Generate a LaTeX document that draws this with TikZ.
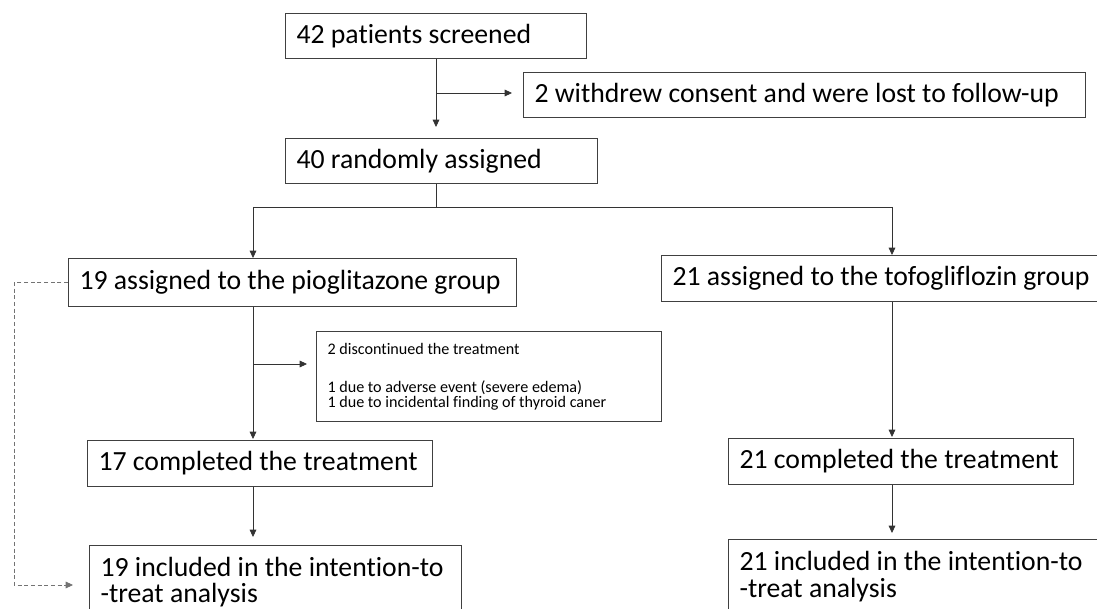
\documentclass[tikz,border=0pt]{standalone}
\usepackage{fontspec}
\setmainfont{Carlito}[Ligatures=NoCommon]
\usepackage{tikz}
\usetikzlibrary{positioning,arrows.meta,calc}

\begin{document}
\begin{tikzpicture}[x=0.75pt, y=-0.75pt,
  fbox/.style={draw=black!75, line width=0.8pt, anchor=north west, inner xsep=8.25pt, inner ysep=0pt,
               align=flush left, font=\fontsize{20.8}{19.8}\selectfont},
  small/.style={fbox, font=\fontsize{12.1}{11.25}\selectfont},
  arr/.style={-{Triangle[length=5.5pt,width=5pt]}, black!80, line width=0.6pt},
  link/.style={black!80, line width=0.6pt},
  dlink/.style={arr, black!55, dash pattern=on 3pt off 2pt}]
\useasboundingbox (0,0) rectangle (1097,609);
% boxes
\node[fbox, text width=209.25pt, minimum height=33.75pt] (screen) at (285,13) {42 patients screened};
\node[fbox, text width=405pt, minimum height=33.75pt] (withdrew) at (523,72) {2 withdrew consent and were lost to follow-up};
\node[fbox, text width=217.5pt, minimum height=33.75pt] (rand) at (285,138) {40 randomly assigned};
\node[fbox, text width=319.5pt, minimum height=36pt] (pio) at (68,258) {19 assigned to the pioglitazone group};
\node[fbox, text width=340pt, minimum height=34.5pt] (tofo) at (661,255) {21 assigned to the tofogliflozin group};
\node[small, text width=242.25pt, minimum height=67.5pt] (disc) at (316,331)
  {2 discontinued the treatment\\[17pt] 1 due to adverse event (severe edema)\\ 1 due to incidental finding of thyroid caner};
\node[fbox, text width=242.25pt, minimum height=34.5pt] (compP) at (87,440) {17 completed the treatment};
\node[fbox, text width=242.25pt, minimum height=34.5pt] (compT) at (728,438) {21 completed the treatment};
\node[fbox, inner ysep=8.5pt, text width=262.5pt] (ittP) at (89,545) {19 included in the intention-to\\-treat analysis\rule[-12pt]{0pt}{0pt}};
\node[fbox, inner ysep=9pt, text width=290pt] (ittT) at (728,539) {21 included in the intention-to\\-treat analysis\rule[-12pt]{0pt}{0pt}};
% guide coordinates
\coordinate (mx) at (436,0);
\coordinate (lx) at (253,0);
\coordinate (rx) at (892,0);
\coordinate (split) at (436,207);
\coordinate (wy) at (0,93);
\coordinate (dy) at (0,364);
\coordinate (dx) at (14,0);
\coordinate (dashy) at (0,585);
% connectors
\draw[arr, shorten >=8.25pt] (screen.south -| mx) -- (rand.north -| mx);
\draw[arr, shorten >=8.25pt] (mx |- wy) -- (withdrew.west |- wy);
\draw[link] (rand.south -| mx) -- (split);
\draw[link] (lx |- split) -- (rx |- split);
\draw[arr] (lx |- split) -- (pio.north -| lx);
\draw[arr] (rx |- split) -- (tofo.north -| rx);
\foreach \a/\b/\g in {pio/compP/0.75,compP/ittP/6} \draw[arr, shorten >=\g pt] (\a.south -| lx) -- (\b.north -| lx);
\foreach \a/\b/\g in {tofo/compT/0.75,compT/ittT/4.5} \draw[arr, shorten >=\g pt] (\a.south -| rx) -- (\b.north -| rx);
\draw[arr, shorten >=6.75pt] (lx |- dy) -- (disc.west |- dy);
\draw[dlink, shorten >=12pt] (pio.west) -| (dx |- dashy) -- (ittP.west |- dashy);
\end{tikzpicture}
\end{document}
